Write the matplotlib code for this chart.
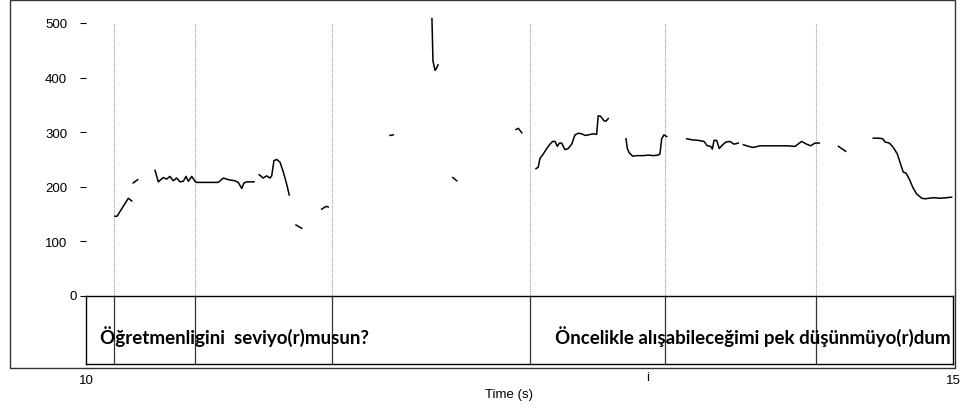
import matplotlib
matplotlib.use("Agg")
import matplotlib.pyplot as plt
from matplotlib.patches import Rectangle
import numpy as np

# pitch track (s, Hz), nan = unvoiced gap
nan = np.nan
pitch_t = [
    10.167, 10.179, 10.244, 10.264, nan,
    10.272, 10.298, nan,
    10.398, 10.417, 10.446, 10.465, 10.484, 10.503, 10.523, 10.542, 10.561, 10.577,
    10.590, 10.610, 10.629, 10.638, 10.700, 10.763, 10.792, 10.821, 10.859, 10.878,
    10.898, 10.911, 10.927, 10.969, nan,
    10.999, 11.022, 11.042, 11.061, 11.071, 11.084, 11.100, 11.119, 11.138, 11.157, 11.172, nan,
    11.211, 11.227, 11.244, nan,
    11.359, 11.384, 11.397, nan,
    11.753, 11.772, nan,
    11.995, 11.998, 12.001, 12.013, 12.023, 12.030, nan,
    12.115, 12.138, nan,
    12.480, 12.493, 12.513, nan,
    12.595, 12.608, 12.618, 12.637, 12.657, 12.676, 12.691, 12.705, 12.718, 12.730,
    12.743, 12.762, 12.781, 12.801, 12.820, 12.839, 12.859, 12.878, 12.897, 12.926,
    12.945, 12.954, 12.968, 12.987, 12.999, 13.012, nan,
    13.114, 13.122, 13.133, 13.153, 13.176, 13.214, 13.243, 13.272, 13.300, 13.310,
    13.320, 13.333, 13.349, nan,
    13.464, 13.493, 13.531, 13.564, 13.583, 13.603, 13.612, 13.622, 13.637, 13.652,
    13.672, 13.691, 13.714, 13.737, 13.762, nan,
    13.791, 13.820, 13.848, 13.887, 13.964, 14.041, 14.089, 14.102, 14.127, 14.156,
    14.179, 14.204, 14.229, nan,
    14.339, 14.381, nan,
    14.540, 14.569, 14.595, 14.608, 14.633, 14.656, 14.679, 14.694, 14.713, 14.729,
    14.748, 14.768, 14.790, 14.820, 14.839, 14.886, 14.925, 14.964, 14.992,
]
pitch_hz = [
    146, 146, 179, 174, nan,
    207, 213, nan,
    230, 209, 217, 214, 219, 211, 216, 209, 210, 219,
    210, 219, 210, 208, 208, 208, 216, 213, 211, 208,
    197, 207, 209, 209, nan,
    222, 216, 220, 216, 220, 248, 250, 245, 227, 205, 185, nan,
    130, 127, 124, nan,
    159, 164, 163, nan,
    294, 295, nan,
    508, 470, 430, 413, 418, 423, nan,
    217, 211, nan,
    305, 307, 299, nan,
    233, 236, 252, 260, 270, 278, 283, 283, 274, 280,
    280, 268, 270, 278, 295, 298, 297, 294, 295, 297,
    296, 330, 329, 321, 320, 325, nan,
    288, 270, 262, 256, 257, 257, 258, 257, 258, 260,
    288, 295, 292, nan,
    288, 286, 285, 283, 275, 274, 269, 285, 285, 270,
    277, 282, 283, 278, 280, nan,
    277, 274, 272, 275, 275, 275, 274, 277, 283, 278,
    275, 280, 280, nan,
    274, 265, nan,
    289, 289, 288, 282, 280, 272, 260, 245, 227, 225,
    214, 199, 187, 179, 178, 180, 179, 180, 181,
]

# interval boundaries in the text tier
bounds = [10.16, 10.63, 11.42, 12.56, 13.34, 14.21]
labels = ["Öğretmenligini  seviyo(r)musun?", "Öncelikle alışabileceğimi pek düşünmüyo(r)dum"]
label_t = [10.081, 12.705]
yticks = [100, 200, 300, 400, 500]

W, H = 961, 410
fig = plt.figure(figsize=(W / 100, H / 100), dpi=100)
tick_font = ["Liberation Sans", "DejaVu Sans"]
fs = 9.5

# outer frame
fig.patches.append(Rectangle((10 / W, (H - 369) / H), 945 / W, 368 / H,
                             transform=fig.transFigure, fill=False,
                             edgecolor="#333333", lw=1.0))

ax = fig.add_axes([86 / W, (H - 297) / H, 867 / W, 284 / H])
ax.set_xlim(10, 15)
ax.set_ylim(0, 520)
for s in ax.spines.values():
    s.set_visible(False)
ax.set_xticks([])
ax.set_yticks([0] + yticks)
ax.set_yticklabels([""] + [str(v) for v in yticks], fontfamily=tick_font, fontsize=fs)
ax.tick_params(axis="y", length=4, width=0.8, pad=9.5, color="black")
ax.text(-0.011, 0, "0", transform=ax.get_yaxis_transform(), ha="right", va="center",
        fontfamily=tick_font, fontsize=fs)

ax.vlines(bounds, 0, 500, colors="0.6", linestyles=(0, (1, 1)), lw=0.8)
ax.plot(pitch_t, pitch_hz, color="black", lw=1.1)

tier = fig.add_axes([86 / W, (H - 365) / H, 867 / W, 68 / H])
tier.set_xlim(10, 15)
tier.set_ylim(0, 1)
tier.set_yticks([])
tier.set_xticks([10, 15])
tier.set_xticklabels(["10", "15"], fontfamily=tick_font, fontsize=fs)
tier.tick_params(axis="x", length=0, pad=7)
for s in tier.spines.values():
    s.set_color("black")
    s.set_linewidth(1.0)
tier.vlines(bounds, 0, 1, colors="#333333", lw=0.9)
for t, lab in zip(label_t, labels):
    tier.text(t, 0.31, lab, ha="left", va="baseline", fontsize=13.5,
              fontweight="bold", fontfamily=["Lato", "DejaVu Sans"])

tier.text(13.24, -0.1, "i", ha="center", va="top", fontfamily=tick_font, fontsize=fs)
tier.text(0.488, -0.36, "Time (s)", transform=tier.transAxes, ha="center", va="top",
          fontfamily=tick_font, fontsize=fs)

fig.savefig("out.png", dpi=100)
